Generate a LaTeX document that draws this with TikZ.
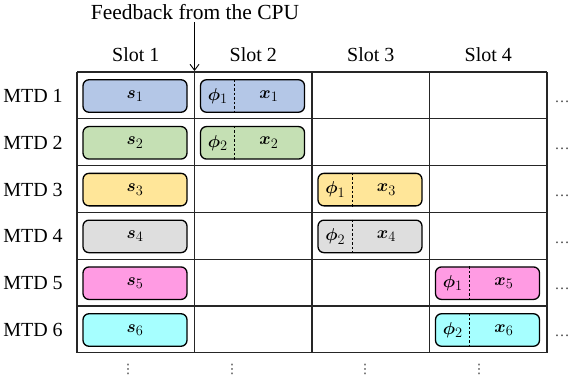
\documentclass[tikz,border=0pt]{standalone}
\usepackage{fontspec}
\setmainfont{Liberation Serif}
\newfontfamily\dejavu{DejaVu Sans}
\usepackage{bm}
\usetikzlibrary{arrows.meta}
\definecolor{cblue}{HTML}{B4C7E7}
\definecolor{cgreen}{HTML}{C5E0B4}
\definecolor{cyellow}{HTML}{FFE699}
\definecolor{cgray}{HTML}{DEDEDE}
\definecolor{cpink}{HTML}{FF9BE3}
\definecolor{ccyan}{HTML}{A6FFFF}
\tikzset{
  gridline/.style={line width=1.1pt, draw=black!85},
  slotbox/.style={draw=black, line width=1.3pt, rounded corners=6pt, minimum width=104pt, minimum height=32.5pt, inner sep=0pt, font=\fontsize{19}{22}\selectfont},
  boxtext/.style={inner sep=0pt, font=\fontsize{19}{22}\selectfont},
  divider/.style={line width=0.8pt, dash pattern=on 2.5pt off 2pt},
  lbl/.style={inner sep=0pt, font=\fontsize{20}{24}\selectfont},
  hdots/.style={inner sep=0pt, font=\fontsize{15}{18}\selectfont, text=black!75},
  vdotsnode/.style={inner sep=0pt, font=\dejavu\fontsize{13}{16}\selectfont, text=black!75},
}
\begin{document}
\begin{tikzpicture}[x=1pt,y=-1pt]
\useasboundingbox (0,0) rectangle (572,380);
% grid
\foreach \yy in {72,118.8,165.6,212.4,259.2,306,352.8}
  \draw[gridline] (77,\yy) -- (547,\yy);
\foreach \xx in {77,194.5,312,429.5,547}
  \draw[gridline] (\xx,72) -- (\xx,352.8);
% headers
\node[lbl] (slot1) at (135.75,55) {Slot 1};
\node[lbl] (slot2) at (253.25,55) {Slot 2};
\node[lbl] (slot3) at (370.75,55) {Slot 3};
\node[lbl] (slot4) at (488.25,55) {Slot 4};
\node[lbl, font=\fontsize{21.5}{25}\selectfont] (fb) at (195,12) {Feedback from the CPU};
\coordinate (fbend) at (194.5,71);
\draw[line width=0.9pt, -{Straight Barb[length=6pt,width=9pt]}] (fb.south -| fbend) ++(0,2.5) -- (fbend);
% row labels
\node[lbl] (m1) at (33,96) {MTD 1};
\node[lbl] (m2) at (33,142.8) {MTD 2};
\node[lbl] (m3) at (33,189.6) {MTD 3};
\node[lbl] (m4) at (33,236.4) {MTD 4};
\node[lbl] (m5) at (33,283.2) {MTD 5};
\node[lbl] (m6) at (33,330) {MTD 6};
% slot 1 boxes
\node[slotbox, fill=cblue]   (s1) at (135,96)    {$\bm{s}_1$};
\node[slotbox, fill=cgreen]  (s2) at (135,142.8) {$\bm{s}_2$};
\node[slotbox, fill=cyellow] (s3) at (135,189.6) {$\bm{s}_3$};
\node[slotbox, fill=cgray]   (s4) at (135,236.4) {$\bm{s}_4$};
\node[slotbox, fill=cpink]   (s5) at (135,283.2) {$\bm{s}_5$};
\node[slotbox, fill=ccyan]   (s6) at (135,330)   {$\bm{s}_6$};
% split boxes
\foreach \n/\cx/\cy/\col/\p/\xi in {b1/252.5/96/cblue/1/1, b2/252.5/142.8/cgreen/2/2, b3/370/189.6/cyellow/1/3, b4/370/236.4/cgray/2/4, b5/487.5/283.2/cpink/1/5, b6/487.5/330/ccyan/2/6}{
  \node[slotbox, fill=\col] (\n) at (\cx,\cy) {};
  \draw[divider] ([xshift=35pt]\n.north west) -- ([xshift=35pt]\n.south west);
  \node[boxtext] (\n phi) at ([xshift=18pt]\n.west) {$\bm{\phi}_{\p}$};
  \node[boxtext] (\n x) at ([xshift=69pt]\n.west) {$\bm{x}_{\xi}$};
}
% horizontal dots
\foreach \yy [count=\i] in {96,142.8,189.6,236.4,283.2,330}
  \node[hdots] (hd\i) at (562,\yy+6) {\ldots};
% vertical dots
\node[vdotsnode] (vd1) at (128,369) {⋮};
\node[vdotsnode] (vd2) at (232,369) {⋮};
\node[vdotsnode] (vd3) at (365,369) {⋮};
\node[vdotsnode] (vd4) at (479,369) {⋮};
\end{tikzpicture}
\end{document}
